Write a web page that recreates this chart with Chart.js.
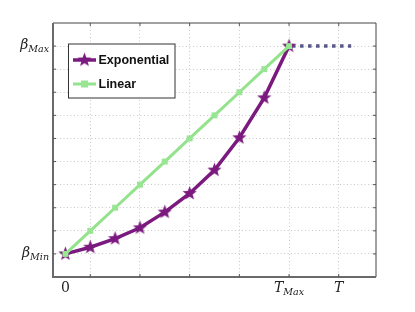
<!DOCTYPE html>
<html>
<head>
<meta charset="utf-8">
<script src="https://cdn.jsdelivr.net/npm/chart.js@4"></script>
<style>
  html, body { margin: 0; padding: 0; background: #fff; }
  #wrap { width: 415px; height: 312px; }
</style>
</head>
<body>
<div id="wrap"><canvas id="chart" width="415" height="312"></canvas></div>
<script>
// Data
const steps = [0, 1, 2, 3, 4, 5, 6, 7, 8, 9];
const expValues = [0, 0.29, 0.66, 1.13, 1.81, 2.62, 3.63, 5.03, 6.76, 9];
const linValues = [0, 1, 2, 3, 4, 5, 6, 7, 8, 9];
const holdX = [9, 11.5];
const holdY = [9, 9];
const seriesNames = ['Exponential', 'Linear'];
const xTickValues = [0, 9, 11];
const xTickLabels = [['0', ''], ['T', 'Max'], ['T', '']];
const yTickValues = [0, 9];
const yTickLabels = [['β', 'Min'], ['β', 'Max']];

const purple = '#7b1a7e';
const green = '#93e28c';
const slate = '#5a5888';

// filled five point star marker
function makeStar(r, color) {
    const c = document.createElement('canvas');
    const s = Math.ceil(r * 2 + 2);
    c.width = s; c.height = s;
    const g = c.getContext('2d');
    g.beginPath();
    for (let i = 0; i < 10; i++) {
        const rad = i % 2 === 0 ? r : r * 0.42;
        const a = -Math.PI / 2 + i * Math.PI / 5;
        const px = s / 2 + rad * Math.cos(a), py = s / 2 + rad * Math.sin(a);
        if (i === 0) g.moveTo(px, py); else g.lineTo(px, py);
    }
    g.closePath();
    g.fillStyle = color;
    g.fill();
    return c;
}
const star = makeStar(7.5, purple);

function pts(xs, ys) { return xs.map((x, i) => ({ x: x, y: ys[i] })); }

function drawLabel(ctx, main, sub, cx, cy, align) {
    ctx.save();
    ctx.fillStyle = '#222';
    ctx.textBaseline = 'alphabetic';
    const mainFont = (main === '0' ? '' : 'italic ') + '14px "DejaVu Serif", "Liberation Serif", serif';
    const subFont = 'italic 9.5px "DejaVu Serif", "Liberation Serif", serif';
    ctx.font = mainFont;
    const w1 = ctx.measureText(main).width;
    ctx.font = subFont;
    const w2 = sub ? ctx.measureText(sub).width : 0;
    const total = w1 + w2;
    let x0 = align === 'right' ? cx - total : cx - total / 2;
    ctx.font = mainFont;
    ctx.fillText(main, x0, cy);
    if (sub) {
        ctx.font = subFont;
        ctx.fillText(sub, x0 + w1, cy + 3);
    }
    ctx.restore();
}

const decorPlugin = {
    id: 'decor',
    beforeDatasetsDraw(chart) {
        const { ctx, chartArea: a, scales } = chart;
        ctx.save();
        ctx.strokeStyle = '#444';
        ctx.lineWidth = 1;
        ctx.beginPath();
        ctx.moveTo(a.left, a.top); ctx.lineTo(a.right, a.top); ctx.lineTo(a.right, a.bottom);
        ctx.stroke();
        ctx.strokeStyle = '#6a6a6a';
        ctx.lineWidth = 2;
        ctx.beginPath();
        ctx.moveTo(a.left, a.top); ctx.lineTo(a.left, a.bottom); ctx.lineTo(a.right, a.bottom);
        ctx.stroke();
        // inner tick marks
        ctx.strokeStyle = '#555';
        ctx.lineWidth = 1;
        [1, 3, 5, 7, 9, 11].forEach(v => {
            const px = scales.x.getPixelForValue(v);
            ctx.beginPath();
            ctx.moveTo(px, a.bottom); ctx.lineTo(px, a.bottom - 3);
            ctx.moveTo(px, a.top); ctx.lineTo(px, a.top + 3);
            ctx.stroke();
        });
        for (let v = 0; v <= 9; v++) {
            const py = scales.y.getPixelForValue(v);
            ctx.beginPath();
            ctx.moveTo(a.left, py); ctx.lineTo(a.left + 3, py);
            ctx.moveTo(a.right, py); ctx.lineTo(a.right - 3, py);
            ctx.stroke();
        }
        ctx.restore();
    },
    afterDraw(chart) {
        const { ctx, chartArea: a, scales } = chart;
        xTickValues.forEach((v, i) => {
            drawLabel(ctx, xTickLabels[i][0], xTickLabels[i][1], scales.x.getPixelForValue(v), a.bottom + 15, 'center');
        });
        yTickValues.forEach((v, i) => {
            drawLabel(ctx, yTickLabels[i][0], yTickLabels[i][1], a.left - 4, scales.y.getPixelForValue(v) + 3, 'right');
        });
        // legend box
        const bx = 68.5, by = 44, bw = 106.5, bh = 54;
        ctx.save();
        ctx.fillStyle = '#fff';
        ctx.fillRect(bx, by, bw, bh);
        ctx.strokeStyle = '#333';
        ctx.lineWidth = 1;
        ctx.strokeRect(bx, by, bw, bh);
        const rows = [60, 84];
        chart.data.datasets.slice(0, 2).forEach((ds, i) => {
            const y = rows[i];
            ctx.strokeStyle = ds.borderColor;
            ctx.lineWidth = ds.borderWidth;
            ctx.beginPath();
            ctx.moveTo(73, y); ctx.lineTo(96, y);
            ctx.stroke();
            if (i === 0) {
                ctx.drawImage(star, 84.5 - star.width / 2, y - star.height / 2);
            } else {
                ctx.fillStyle = ds.pointBackgroundColor;
                ctx.fillRect(81, y - 3.5, 7, 7);
            }
            ctx.fillStyle = '#111';
            ctx.font = 'bold 12.5px "Liberation Sans", Arial, sans-serif';
            ctx.textBaseline = 'middle';
            ctx.fillText(seriesNames[i], 98.5, y + 1);
        });
        ctx.restore();
    }
};

new Chart(document.getElementById('chart'), {
    type: 'line',
    data: {
        datasets: [
            {
                label: seriesNames[0],
                data: pts(steps, expValues),
                borderColor: purple,
                backgroundColor: purple,
                borderWidth: 3.5,
                pointStyle: star,
                order: 1
            },
            {
                label: seriesNames[1],
                data: pts(steps, linValues),
                borderColor: green,
                backgroundColor: green,
                pointBackgroundColor: '#98e592',
                borderWidth: 3,
                pointStyle: 'rect',
                pointRadius: 4.2,
                pointBorderWidth: 0,
                order: 0
            },
            {
                label: 'hold',
                data: pts(holdX, holdY),
                borderColor: slate,
                borderWidth: 3.5,
                borderDash: [3.5, 4.5],
                borderDashOffset: -3,
                borderCapStyle: 'butt',
                pointRadius: 0,
                order: 2
            }
        ]
    },
    options: {
        responsive: false,
        animation: false,
        layout: { padding: { left: 53, right: 39, top: 23, bottom: 35 } },
        plugins: { legend: { display: false }, tooltip: { enabled: false } },
        elements: { line: { tension: 0 } },
        scales: {
            x: {
                type: 'linear',
                min: -0.5,
                max: 12.5,
                afterBuildTicks: s => { s.ticks = [1, 3, 5, 7, 9, 11].map(v => ({ value: v })); },
                ticks: { display: false },
                grid: { color: '#c8c8c8', lineWidth: 1, drawTicks: false },
                border: { display: false, dash: [1, 2.5] }
            },
            y: {
                min: -1,
                max: 10,
                afterBuildTicks: s => { s.ticks = linValues.map(v => ({ value: v })); },
                ticks: { display: false },
                grid: { color: '#c8c8c8', lineWidth: 1, drawTicks: false },
                border: { display: false, dash: [1, 2.5] }
            }
        }
    },
    plugins: [decorPlugin]
});
</script>
</body>
</html>
